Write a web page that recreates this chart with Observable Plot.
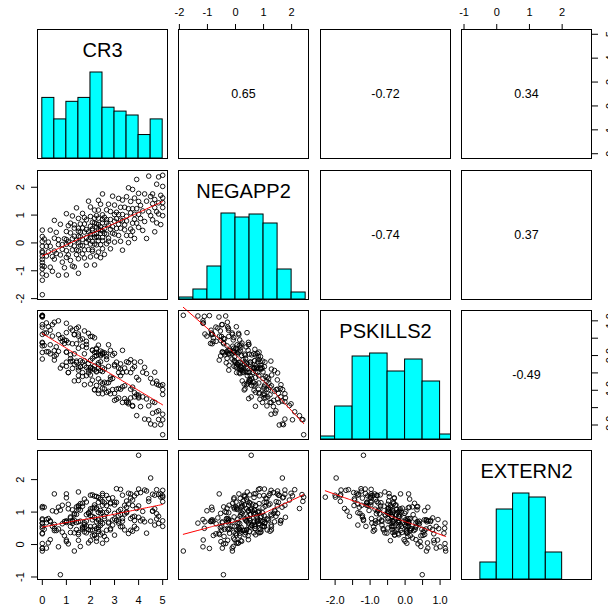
<!DOCTYPE html>
<html><head><meta charset="utf-8">
<script src="https://cdn.jsdelivr.net/npm/d3@7"></script>
<script src="https://cdn.jsdelivr.net/npm/@observablehq/plot@0.6"></script>
<style>
body{margin:0;background:#fff;}
#chart{position:relative;width:608px;height:606px;overflow:hidden;background:#fff;font-family:"Liberation Sans",Arial,sans-serif;}
</style></head><body><div id="chart"></div>
<script>
const varNames = ["CR3","NEGAPP2","PSKILLS2","EXTERN2"];

const cr3 = [
0,0,0,0,0,0,0,0,0,0,
0,0,0,0,0.08,0.08,0.17,0.17,0.17,0.25,
0.25,0.33,0.33,0.33,0.42,0.42,0.5,0.5,0.5,0.5,
0.58,0.58,0.67,0.67,0.67,0.75,0.75,0.83,0.83,0.83,
0.92,0.92,1,1,1,1,1,1,1,1.08,
1.08,1.08,1.17,1.17,1.17,1.17,1.25,1.25,1.25,1.25,
1.33,1.33,1.33,1.33,1.33,1.42,1.42,1.42,1.42,1.5,
1.5,1.5,1.5,1.5,1.5,1.5,1.5,1.58,1.58,1.58,
1.58,1.67,1.67,1.67,1.67,1.67,1.75,1.75,1.75,1.75,
1.75,1.83,1.83,1.83,1.83,1.83,1.92,1.92,1.92,1.92,
2,2,2,2,2,2,2,2.08,2.08,2.08,
2.08,2.08,2.08,2.17,2.17,2.17,2.17,2.17,2.17,2.17,
2.25,2.25,2.25,2.25,2.25,2.25,2.25,2.33,2.33,2.33,
2.33,2.33,2.33,2.33,2.33,2.42,2.42,2.42,2.42,2.42,
2.42,2.5,2.5,2.5,2.5,2.5,2.5,2.5,2.5,2.58,
2.58,2.58,2.58,2.67,2.67,2.67,2.67,2.67,2.75,2.75,
2.75,2.75,2.83,2.83,2.83,2.83,2.92,2.92,2.92,3,
3,3,3,3,3.08,3.08,3.08,3.17,3.17,3.17,
3.17,3.25,3.25,3.25,3.25,3.33,3.33,3.33,3.33,3.42,
3.42,3.42,3.5,3.5,3.5,3.5,3.58,3.58,3.58,3.67,
3.67,3.67,3.67,3.75,3.75,3.75,3.75,3.83,3.83,3.83,
3.83,3.92,3.92,3.92,4,4,4,4,4.08,4.08,
4.17,4.17,4.25,4.25,4.33,4.33,4.42,4.42,4.5,4.5,
4.58,4.58,4.58,4.67,4.67,4.67,4.75,4.75,4.75,4.83,
4.83,4.83,4.92,4.92,5,5,5,5,5,5];

const negapp2 = [
-0.30,-0.93,0.23,-0.59,-0.12,-1.34,-0.47,-0.82,0.46,-1.86,
-0.70,0.05,-1.11,-0.35,-0.85,0.14,-0.47,-0.12,-1.16,-0.32,
0.03,-0.87,-0.12,0.46,-0.49,-1.02,0.17,-0.29,-0.58,0.81,
-0.38,0.38,-1.16,-0.06,0.12,-0.43,0.67,-0.69,-0.06,-0.23,
0.15,-0.89,-0.05,1.05,-0.52,0.41,-0.28,0.12,-1.15,0.62,
-0.43,0.04,0.71,-0.63,-0.05,0.36,-0.25,0.97,-0.83,0.15,
0.53,-0.11,-0.86,0.24,0.65,-0.42,0.10,1.26,-0.25,0.42,
-0.57,0.24,0.88,0.01,0.53,-0.28,-1.09,0.39,-0.08,0.68,
0.22,-0.39,1.06,0.13,-0.10,0.54,-0.54,0.39,0.91,-0.25,
0.68,0.02,0.48,-0.80,0.83,0.19,-0.24,0.40,1.50,0.11,
-0.04,0.95,0.31,-0.50,0.60,0.19,1.29,-0.24,0.51,0.05,
0.74,-0.30,0.45,1.18,-0.04,0.31,-0.79,0.72,0.20,0.89,
-0.07,0.57,0.98,0.22,0.34,-0.47,0.69,1.53,0.08,0.49,
-0.33,0.89,0.20,0.66,1.18,-0.06,0.46,0.34,1.39,-0.53,
0.58,0.20,1.01,-0.21,0.84,0.43,1.76,0.08,0.72,0.34,
0.92,-0.41,0.52,1.19,0.32,0.72,-0.03,0.84,1.39,0.17,
0.64,0.06,1.13,0.49,0.84,-0.21,1.68,0.58,0.35,1.02,
0.32,1.36,0.78,0.03,1.10,0.52,0.87,1.60,0.27,0.67,
1.02,0.06,0.82,1.28,0.53,1.02,-0.26,1.54,0.79,0.47,
1.28,0.65,1.66,0.27,0.96,0.79,0.01,1.23,1.98,0.50,
1.08,0.27,1.49,0.71,1.23,1.92,0.42,1.03,0.85,1.61,
0.16,1.23,2.28,0.71,1.49,0.56,1.03,1.78,0.88,1.35,
1.15,0.45,1.76,0.77,1.50,0.16,1.12,2.40,0.98,1.67,
0.83,1.41,1.76,0.40,1.27,1.56,1.12,2.11,0.72,1.44,
2.37,1.04,1.71,0.66,2.43,1.45,0.98,2.03,1.62,1.27];

const pskills2 = [
0.28,1.15,0.36,1.11,-0.10,1.14,0.89,0.61,0.38,1.16,
0.82,0.09,1.13,1.14,0.65,0.29,0.11,0.65,0.94,0.11,
0.83,0.73,0.05,0.31,0.89,0.56,0.14,0.96,-0.13,-0.02,
0.02,0.25,1.00,0.12,0.60,0.49,-0.36,0.41,0.52,-0.28,
0.45,0.35,-0.31,-0.19,0.43,0.66,0.10,0.10,0.93,-0.49,
0.37,-0.49,0.02,0.79,-0.17,-0.09,0.73,-0.16,0.34,-0.37,
-0.25,0.61,0.60,-0.73,0.05,0.34,-0.20,-0.16,0.78,-0.58,
0.56,-0.42,-0.35,0.21,-0.72,0.82,0.62,-0.32,0.45,-0.15,
-0.33,0.48,-0.60,-0.49,0.27,-0.19,0.71,-0.84,-0.29,0.05,
-0.15,-0.34,0.32,0.41,-0.58,0.23,-0.42,-0.23,-0.50,0.64,
-0.14,-0.36,-0.82,0.55,-0.34,-0.42,-0.56,0.55,-0.71,0.16,
-0.37,-0.08,0.15,-0.98,0.09,-0.99,0.51,-0.30,-0.41,-0.03,
0.21,-0.86,-0.47,0.00,-0.45,0.09,0.18,-1.09,-0.26,0.04,
-0.21,-0.37,0.30,-1.00,-0.67,0.13,-0.76,-0.18,-0.43,-0.01,
0.02,-0.35,-0.94,0.05,0.10,-0.81,-1.10,0.05,-0.46,-0.96,
-0.39,0.08,-0.77,-0.79,0.04,-1.06,-0.03,-0.11,-1.03,-0.31,
-0.78,0.31,-0.62,-0.69,-1.10,0.15,-0.98,-0.66,0.01,-1.09,
-0.26,-1.29,0.06,-0.30,-0.97,-0.19,-1.26,-0.95,-0.49,-0.36,
-1.22,-0.24,-0.97,-0.39,-0.58,-0.90,0.15,-1.35,-0.49,-1.24,
-0.87,-0.36,-1.31,-0.47,-1.35,-0.18,-0.20,-1.35,-1.39,-0.49,
-1.22,-0.12,-0.97,-1.46,-0.91,-1.44,-0.38,-0.32,-1.07,-1.19,
-0.19,-1.13,-1.73,-0.63,-0.70,-1.19,-1.14,-1.22,-0.18,-1.47,
-1.19,-0.48,-1.83,-0.34,-1.25,-0.52,-1.45,-1.85,-0.66,-1.97,
-0.79,-1.66,-1.33,-0.48,-1.35,-2.00,-0.74,-1.62,-0.82,-1.59,
-1.84,-0.85,-1.99,-0.87,-2.28,-0.98,-1.12,-1.85,-0.84,-1.69];

const extern2 = [
0.79,-0.12,1.17,0.35,0.56,0.66,-0.11,0.76,0.66,-0.20,
0.33,1.13,0.50,0.03,1.15,0.47,0.67,-0.11,0.77,0.80,
0.05,0.71,0.73,0.15,0.56,1.04,0.43,0.49,1.56,0.62,
1.01,0.43,-0.07,1.15,0.48,-0.93,1.06,0.64,0.38,1.21,
0.27,0.71,1.44,0.68,0.09,0.73,0.71,1.56,0.14,1.24,
0.02,1.10,0.56,0.82,0.85,0.37,0.75,0.71,1.07,0.65,
0.92,-0.20,0.75,0.96,0.36,1.16,0.68,0.93,0.46,1.62,
0.31,1.20,0.37,1.16,1.09,0.13,0.70,0.72,-0.06,1.06,
1.26,0.47,1.18,0.51,1.27,0.54,0.52,1.40,0.39,0.67,
0.61,1.31,0.57,0.72,0.36,0.92,0.98,0.46,0.96,0.05,
1.10,0.55,1.52,0.44,1.03,0.12,0.89,0.76,1.53,0.45,
0.87,1.12,0.27,1.22,0.56,1.49,0.28,0.30,1.15,0.83,
0.20,1.09,1.13,0.10,1.48,0.70,0.49,1.30,0.78,0.40,
0.99,0.46,0.53,1.45,0.75,1.40,1.05,0.30,0.70,0.96,
0.59,0.99,1.51,0.35,0.65,1.33,1.21,0.04,1.57,0.80,
0.87,0.25,1.28,1.51,0.44,1.20,0.15,0.99,1.05,1.42,
0.69,0.66,0.45,1.29,1.26,0.49,1.44,0.60,0.76,1.30,
1.22,0.96,0.79,0.29,1.30,0.74,1.72,0.66,1.03,0.72,
0.89,1.08,1.70,0.55,0.93,0.55,0.80,1.52,0.72,1.21,
0.45,0.94,1.15,1.34,0.98,1.01,0.34,1.25,1.58,0.80,
1.43,0.44,1.56,1.20,0.41,1.37,0.85,0.56,1.50,0.74,
0.87,1.57,1.11,0.49,1.19,2.75,1.71,0.84,0.73,1.60,
0.78,1.02,1.68,0.70,1.65,0.35,1.41,1.33,0.72,2.05,
1.03,1.03,1.55,1.10,0.60,1.52,0.79,1.69,0.95,0.87,
1.54,0.65,1.46,1.56,1.46,1.32,0.56,1.50,0.73,1.67];

// histogram bins (edges) and bar heights
const cr3HistEdges = [0,0.5,1,1.5,2,2.5,3,3.5,4,4.5,5];
const cr3HistCounts = [31,20,29,31,44,26,24,22,12,20];
const negHistEdges = [-2,-1.5,-1,-0.5,0,0.5,1,1.5,2,2.5];
const negHistCounts = [2,10,33,86,82,85,76,30,7];
const pskHistEdges = [-2.5,-2,-1.5,-1,-0.5,0,0.5,1,1.5];
const pskHistCounts = [3,33,83,86,68,80,58,5];
const extHistEdges = [-0.5,0,0.5,1,1.5,2];
const extHistCounts = [17,70,86,82,27];

// correlations shown in the upper panels
const corrRow = [0,0,0,1,1,2];
const corrCol = [1,2,3,2,3,3];
const corrValue = [0.65,-0.72,0.34,-0.74,0.37,-0.49];

// axis ticks
const cr3Ticks = [0,1,2,3,4,5];
const cr3TickLabels = ["0","1","2","3","4","5"];
const negTicks = [-2,-1,0,1,2];
const negTickLabels = ["-2","-1","0","1","2"];
const pskTicks = [-2,-1.5,-1,-0.5,0,0.5,1];
const pskTickLabels = ["-2.0","","-1.0","","0.0","","1.0"];
const extTicks = [-1,0,1,2];
const extTickLabels = ["-1","0","1","2"];

const vars = [cr3, negapp2, pskills2, extern2];
const hists = [
  [cr3HistEdges, cr3HistCounts],
  [negHistEdges, negHistCounts],
  [pskHistEdges, pskHistCounts],
  [extHistEdges, extHistCounts]
];
const ticks = [[cr3Ticks, cr3TickLabels],[negTicks, negTickLabels],[pskTicks, pskTickLabels],[extTicks, extTickLabels]];

// R-style 4% extended ranges
const domains = vars.map(v => {
  const [a, b] = d3.extent(v); const e = (b - a) * 0.04; return [a - e, b + e];
});

function lowess(xv, yv, f = 2/3, iter = 3) {
  const n = xv.length;
  const order = d3.range(n).sort((a, b) => xv[a] - xv[b]);
  const x = order.map(i => xv[i]), y = order.map(i => yv[i]);
  const ns = Math.max(2, Math.min(n, Math.round(f * n)));
  let rw = new Array(n).fill(1);
  const fit = new Array(n).fill(0);
  for (let it = 0; it <= iter; it++) {
    for (let i = 0; i < n; i++) {
      const d = x.map(v => Math.abs(v - x[i])).sort((a, b) => a - b);
      const h = Math.max(d[ns - 1], 1e-9);
      const w = new Array(n);
      let sw = 0, sx = 0, sy = 0;
      for (let j = 0; j < n; j++) {
        const u = Math.abs(x[j] - x[i]) / h;
        let wj = u <= 0.001 ? 1 : (u < 0.999 ? Math.pow(1 - u * u * u, 3) : 0);
        wj *= rw[j];
        w[j] = wj; sw += wj; sx += wj * x[j]; sy += wj * y[j];
      }
      if (sw <= 0) { fit[i] = y[i]; continue; }
      const mx = sx / sw, my = sy / sw;
      let sxx = 0, sxy = 0;
      for (let j = 0; j < n; j++) { sxx += w[j] * (x[j] - mx) ** 2; sxy += w[j] * (x[j] - mx) * (y[j] - my); }
      const b = sxx > 1e-12 ? sxy / sxx : 0;
      fit[i] = my + b * (x[i] - mx);
    }
    if (it === iter) break;
    const res = y.map((v, k) => v - fit[k]);
    const cmad = 6 * d3.median(res.map(Math.abs));
    rw = res.map(r => { const u = Math.abs(r) / cmad; return u < 1 ? (1 - u * u) ** 2 : 0; });
  }
  return x.map((v, k) => ({x: v, y: fit[k]}));
}

const chart = document.getElementById("chart");
const M = 40;
const panelLeft = [37, 178, 320, 461];
const panelTop = [29, 170, 310, 450];
const PW = 130, PH = 129;
const font = "'Liberation Sans', Arial, sans-serif";
const idx = d3.range(cr3.length);

for (let r = 0; r < 4; r++) {
  for (let c = 0; c < 4; c++) {
    const marks = [];
    let yDomain = domains[r];
    if (r === c) {
      const [edges, counts] = hists[r];
      const maxC = d3.max(counts);
      yDomain = [0, 1.5 * maxC];
      const bins = counts.map((n, k) => ({x1: edges[k], x2: edges[k + 1], n}));
      marks.push(Plot.rect(bins, {x1: "x1", x2: "x2", y1: 0, y2: "n", fill: "#00FFFF", stroke: "black", strokeWidth: 1, clip: true}));
      marks.push(Plot.text([varNames[r]], {frameAnchor: "top", dy: 21, lineAnchor: "middle", fontSize: 20, fill: "black"}));
    } else if (r > c) {
      const xs = vars[c], ys = vars[r];
      marks.push(Plot.dot(idx, {x: i => xs[i], y: i => ys[i], r: 2.3, stroke: "black", strokeWidth: 0.9, fill: "none"}));
      marks.push(Plot.line(lowess(xs, ys), {x: "x", y: "y", stroke: "red", strokeWidth: 1}));
    } else {
      const k = corrRow.findIndex((rr, q) => rr === r && corrCol[q] === c);
      marks.push(Plot.text([corrValue[k].toFixed(2)], {frameAnchor: "middle", fontSize: 12.5, fill: "black"}));
    }
    marks.push(Plot.frame({stroke: "black", strokeWidth: 1}));

    // axes on the outer edges, alternating like R's pairs()
    if (r === 0 && c % 2 === 1) {
      const [tv, tl] = ticks[c];
      marks.push(Plot.axisX(tv, {anchor: "top", label: null, tickSize: 6, tickPadding: 8, fontSize: 11, tickFormat: d => tl[tv.indexOf(d)]}));
    }
    if (r === 3 && c % 2 === 0) {
      const [tv, tl] = ticks[c];
      marks.push(Plot.axisX(tv, {anchor: "bottom", label: null, tickSize: 6, tickPadding: 11, fontSize: 11, tickFormat: d => tl[tv.indexOf(d)]}));
    }
    if (c === 0 && r % 2 === 1) {
      const [tv, tl] = ticks[r];
      marks.push(Plot.axisY(tv, {anchor: "left", label: null, tickSize: 6, tickFormat: () => ""}));
      marks.push(Plot.text(tv, {y: d => d, text: d => tl[tv.indexOf(d)], frameAnchor: "left", dx: -17, rotate: -90, fontSize: 11, textAnchor: "middle", lineAnchor: "middle", fill: "black"}));
    }
    if (c === 3 && r % 2 === 0) {
      const [tv, tl] = ticks[r];
      marks.push(Plot.axisY(tv, {anchor: "right", label: null, tickSize: 6, tickFormat: () => ""}));
      marks.push(Plot.text(tv, {y: d => d, text: d => tl[tv.indexOf(d)], frameAnchor: "right", dx: 19, rotate: -90, fontSize: 11, textAnchor: "middle", lineAnchor: "middle", fill: "black"}));
    }

    const svg = Plot.plot({
      width: PW + 2 * M,
      height: PH + 2 * M,
      margin: M,
      x: {domain: domains[c], axis: null, label: null},
      y: {domain: yDomain, axis: null, label: null},
      marks
    });
    svg.style.position = "absolute";
    svg.style.left = (panelLeft[c] - M) + "px";
    svg.style.top = (panelTop[r] - M) + "px";
    svg.style.background = "transparent";
    svg.style.overflow = "visible";
    svg.style.maxWidth = "none";
    svg.style.fontFamily = font;
    chart.appendChild(svg);
  }
}
</script></body></html>
